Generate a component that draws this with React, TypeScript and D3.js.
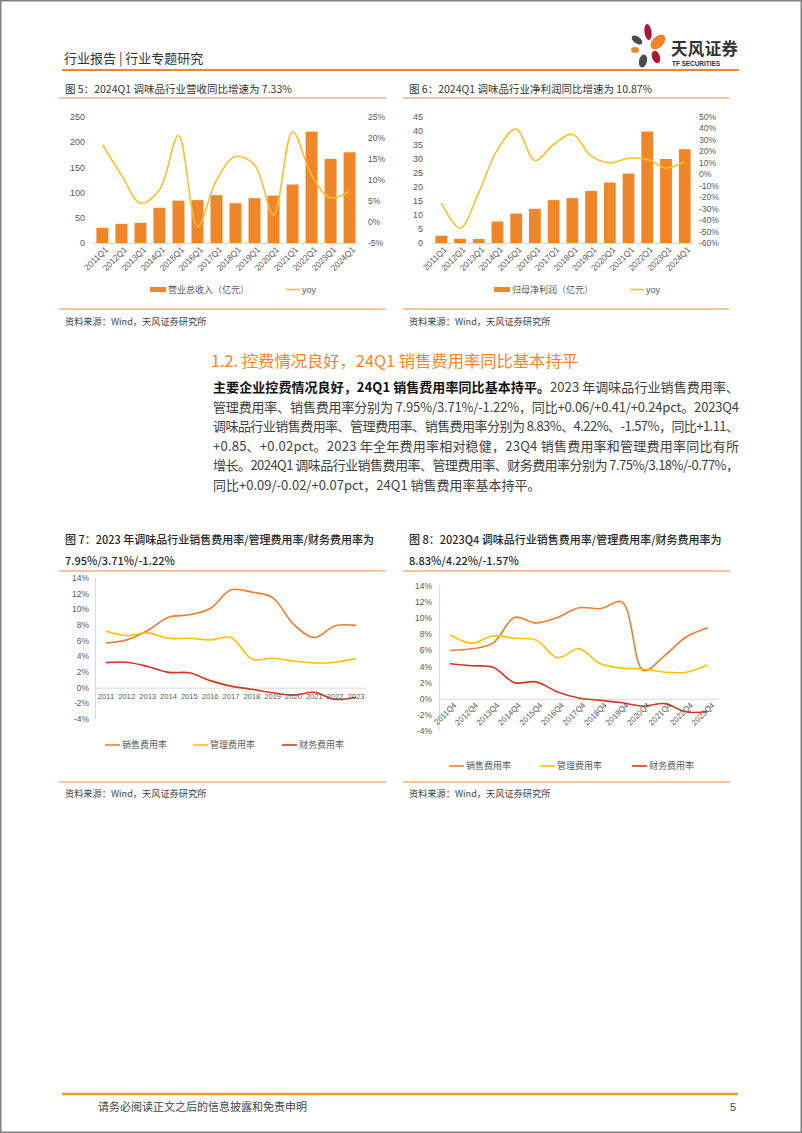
import React from 'react';
import * as d3 from 'd3';

// ---- data ----
const quarters = ['2011Q1', '2012Q1', '2013Q1', '2014Q1', '2015Q1', '2016Q1', '2017Q1', '2018Q1', '2019Q1', '2020Q1', '2021Q1', '2022Q1', '2023Q1', '2024Q1'];
const revenue = [30, 38, 40, 70, 84, 85, 95, 79, 89, 94, 116, 221, 167, 180];
const revenueYoy = [18.4, 11.2, 4.5, 7.7, 20.6, -1.1, 10, 15.6, 13.6, 1.7, 21.5, 11.2, 5.7, 7.33];
const netProfit = [2.6, 1.5, 1.4, 7.7, 10.5, 12.2, 15.3, 16, 18.6, 21.6, 24.8, 39.8, 30, 33.5];
const profitYoy = [-25, -47, -16, 21.5, 39.5, 12, 26, 35, 16, 10, 14, 13, 5.5, 10.87];
const revTicks = [0, 50, 100, 150, 200, 250];
const revYoyTicks = [-5, 0, 5, 10, 15, 20, 25];
const profitTicks = [0, 5, 10, 15, 20, 25, 30, 35, 40, 45];
const profitYoyTicks = [-60, -50, -40, -30, -20, -10, 0, 10, 20, 30, 40, 50];

const years = ['2011', '2012', '2013', '2014', '2015', '2016', '2017', '2018', '2019', '2020', '2021', '2022', '2023'];
const sales7 = [5.7, 6.1, 7.3, 9.0, 9.3, 10.1, 12.5, 12.2, 11.5, 8.1, 6.4, 7.9, 7.95];
const admin7 = [7.2, 6.65, 7.0, 6.3, 6.3, 6.1, 6.4, 3.65, 3.75, 3.4, 3.15, 3.25, 3.71];
const fin7 = [3.2, 3.25, 2.7, 1.95, 1.9, 0.9, 0.2, -0.2, -0.65, -0.95, -0.6, -1.5, -1.22];

const q4s = ['2011Q4', '2012Q4', '2013Q4', '2014Q4', '2015Q4', '2016Q4', '2017Q4', '2018Q4', '2019Q4', '2020Q4', '2021Q4', '2022Q4', '2023Q4'];
const sales8 = [6.0, 6.2, 6.9, 10.1, 9.4, 10.1, 11.3, 11.2, 12.0, 3.5, 5.4, 7.7, 8.83];
const admin8 = [7.95, 6.9, 7.8, 7.5, 7.3, 5.1, 6.2, 4.35, 3.8, 3.7, 3.3, 3.3, 4.22];
const fin8 = [4.35, 4.1, 3.9, 2.0, 2.1, 0.85, 0.1, -0.2, -0.5, -0.9, -0.6, -1.65, -1.57];
const rateTicks = [-4, -2, 0, 2, 4, 6, 8, 10, 12, 14];
const rateNames = ['销售费用率', '管理费用率', '财务费用率'];

const FONT = '"Liberation Sans", Arial, "Noto Sans CJK SC", sans-serif';
const CJK = '"Noto Sans CJK SC", sans-serif';
const ORANGE = '#F0862A';
const YELLOW = '#F7C02C';
const C_SALES = '#EE7D2F';
const C_ADMIN = '#FFC000';
const C_FIN = '#D2361E';
const AXIS_TXT = '#595959';
const RULE = '#F4B183';

interface BarLineProps {
  x0: number; x1: number; top: number; bottom: number;
  bars: number[]; line: number[];
  leftTicks: number[]; rightTicks: number[];
  leftLabelX: number; rightLabelX: number;
  barName: string; legendX: number; yoyX: number;
}

const BarLine = (p: BarLineProps) => {
  const x = d3.scaleBand<string>().domain(quarters).range([p.x0, p.x1]).paddingInner(0.37).paddingOuter(0.18);
  const yL = d3.scaleLinear().domain(d3.extent(p.leftTicks) as [number, number]).range([p.bottom, p.top]);
  const yR = d3.scaleLinear().domain(d3.extent(p.rightTicks) as [number, number]).range([p.bottom, p.top]);
  const cx = (q: string) => (x(q) as number) + x.bandwidth() / 2;
  const line = d3.line<number>()
    .x((_, i) => cx(quarters[i]))
    .y((d) => yR(d))
    .curve(d3.curveCatmullRom.alpha(0.5));
  return (
    <g fontFamily={FONT}>
      {p.leftTicks.map((t) => (
        <text key={'l' + t} x={p.leftLabelX} y={yL(t)} dy="0.35em" textAnchor="end" fontSize={9} fill={AXIS_TXT}>{t}</text>
      ))}
      {p.rightTicks.map((t) => (
        <text key={'r' + t} x={p.rightLabelX} y={yR(t)} dy="0.35em" fontSize={8.5} fill={AXIS_TXT}>{t}%</text>
      ))}
      {quarters.map((q, i) => (
        <rect key={q} x={x(q)} y={yL(p.bars[i])} width={x.bandwidth()} height={p.bottom - yL(p.bars[i])} fill={ORANGE} />
      ))}
      <line x1={p.x0} x2={p.x1} y1={p.bottom + 0.5} y2={p.bottom + 0.5} stroke="#D9D9D9" />
      <path d={line(p.line) || ''} fill="none" stroke={YELLOW} strokeWidth={1.6} />
      {quarters.map((q) => (
        <text key={'x' + q} transform={`translate(${cx(q) + 4},${p.bottom + 5}) rotate(-45)`} textAnchor="end" dy="0.35em" fontSize={8.5} fill={AXIS_TXT}>{q}</text>
      ))}
      <rect x={p.legendX} y={287} width={16} height={5} fill={ORANGE} />
      <text x={p.legendX + 18} y={289.5} dy="0.35em" fontSize={9} fill={AXIS_TXT} fontFamily={CJK}>{p.barName}</text>
      <line x1={p.yoyX} x2={p.yoyX + 14} y1={289.5} y2={289.5} stroke={YELLOW} strokeWidth={1.6} />
      <text x={p.yoyX + 16} y={289.5} dy="0.35em" fontSize={9} fill={AXIS_TXT}>yoy</text>
    </g>
  );
};

interface RateProps {
  labels: string[]; series: number[][];
  axisX: number; x0: number; x1: number; right: number;
  top: number; bottom: number; labelX: number;
  rotate: boolean; legendY: number; legendXs: number[];
}

const RateChart = (p: RateProps) => {
  const x = d3.scalePoint<string>().domain(p.labels).range([p.x0, p.x1]);
  const y = d3.scaleLinear().domain([-4, 14]).range([p.bottom, p.top]);
  const colors = [C_SALES, C_ADMIN, C_FIN];
  const line = d3.line<number>()
    .x((_, i) => x(p.labels[i]) as number)
    .y((d) => y(d))
    .curve(d3.curveCatmullRom.alpha(0.5));
  return (
    <g fontFamily={FONT}>
      {rateTicks.map((t) => (
        <text key={t} x={p.labelX} y={y(t)} dy="0.35em" textAnchor="end" fontSize={8.5} fill={AXIS_TXT}>{t}%</text>
      ))}
      <line x1={p.axisX + 0.5} x2={p.axisX + 0.5} y1={p.top} y2={p.bottom} stroke="#D9D9D9" />
      <line x1={p.axisX} x2={p.right} y1={y(0) + 0.5} y2={y(0) + 0.5} stroke="#D9D9D9" />
      {p.series.map((s, k) => (
        <path key={k} d={line(s) || ''} fill="none" stroke={colors[k]} strokeWidth={1.6} />
      ))}
      {p.labels.map((l) =>
        p.rotate ? (
          <text key={l} transform={`translate(${(x(l) as number) + 5},${y(0) + 5}) rotate(-45)`} textAnchor="end" dy="0.35em" fontSize={8} fill={AXIS_TXT}>{l}</text>
        ) : (
          <text key={l} x={x(l)} y={y(0) + 9} dy="0.35em" textAnchor="middle" fontSize={7.6} fill={AXIS_TXT}>{l}</text>
        )
      )}
      {rateNames.map((n, k) => (
        <g key={n}>
          <line x1={p.legendXs[k]} x2={p.legendXs[k] + 15} y1={p.legendY} y2={p.legendY} stroke={colors[k]} strokeWidth={1.6} />
          <text x={p.legendXs[k] + 17} y={p.legendY} dy="0.35em" fontSize={9} fill={AXIS_TXT} fontFamily={CJK}>{n}</text>
        </g>
      ))}
    </g>
  );
};

const paraLines: { bold?: string; text: string; full: boolean }[] = [
  { bold: '主要企业控费情况良好，24Q1 销售费用率同比基本持平。', text: '2023 年调味品行业销售费用率、', full: true },
  { text: '管理费用率、销售费用率分别为 7.95%/3.71%/-1.22%，同比+0.06/+0.41/+0.24pct。2023Q4', full: true },
  { text: '调味品行业销售费用率、管理费用率、销售费用率分别为 8.83%、4.22%、-1.57%，同比+1.11、', full: true },
  { text: '+0.85、+0.02pct。2023 年全年费用率相对稳健，23Q4 销售费用率和管理费用率同比有所', full: true },
  { text: '增长。2024Q1 调味品行业销售费用率、管理费用率、财务费用率分别为 7.75%/3.18%/-0.77%，', full: true },
  { text: '同比+0.09/-0.02/+0.07pct，24Q1 销售费用率基本持平。', full: false },
];

const Logo = () => (
  <g>
    <ellipse cx={648} cy={32} rx={3.6} ry={8} fill="#A8183B" transform="rotate(-8 648 32)" />
    <ellipse cx={658} cy={42} rx={5.5} ry={9} fill={ORANGE} transform="rotate(45 658 42)" />
    <ellipse cx={637} cy={40} rx={3.5} ry={6} fill="#4A4A4A" transform="rotate(-55 637 40)" />
    <ellipse cx={635} cy={50} rx={4} ry={3} fill={ORANGE} />
    <ellipse cx={656} cy={57} rx={4} ry={6.5} fill="#A8183B" transform="rotate(-20 656 57)" />
    <ellipse cx={643} cy={61} rx={4} ry={6.5} fill="#4A4A4A" transform="rotate(12 643 61)" />
    <text x={671} y={55} fontSize={16.5} fontWeight="bold" fill="#333" fontFamily={CJK} textLength={67}>天风证券</text>
    <text x={672} y={65.5} fontSize={6.5} fontWeight="bold" fill="#333" fontFamily={FONT} textLength={48}>TF SECURITIES</text>
  </g>
);

export default function App() {
  return (
    <svg width={802} height={1133} style={{ position: 'absolute', left: 0, top: 0, background: '#fff' }} fontFamily={CJK}>
      <rect x={0.75} y={0.75} width={800.5} height={1131.5} fill="#fff" stroke="#808080" strokeWidth={1.5} />
      <Logo />
      <text x={64} y={62.5} fontSize={13} fill="#333">行业报告 | 行业专题研究</text>
      <line x1={62} x2={739} y1={70} y2={70} stroke={ORANGE} strokeWidth={2} />

      <text x={65} y={92.5} fontSize={10.5} fill="#333">图 5：2024Q1 调味品行业营收同比增速为 7.33%</text>
      <text x={409} y={92.5} fontSize={10.5} fill="#333">图 6：2024Q1 调味品行业净利润同比增速为 10.87%</text>
      <line x1={59} x2={386} y1={98} y2={98} stroke={RULE} strokeWidth={1.5} />
      <line x1={403} x2={729} y1={98} y2={98} stroke={RULE} strokeWidth={1.5} />

      <BarLine x0={93} x1={359} top={117} bottom={243} bars={revenue} line={revenueYoy}
        leftTicks={revTicks} rightTicks={revYoyTicks} leftLabelX={85} rightLabelX={368}
        barName="营业总收入（亿元）" legendX={150} yoyX={286} />
      <BarLine x0={432} x1={694} top={117} bottom={243} bars={netProfit} line={profitYoy}
        leftTicks={profitTicks} rightTicks={profitYoyTicks} leftLabelX={423} rightLabelX={699}
        barName="归母净利润（亿元）" legendX={494} yoyX={630} />

      <line x1={59} x2={386} y1={309} y2={309} stroke={RULE} strokeWidth={1.5} />
      <line x1={403} x2={729} y1={309} y2={309} stroke={RULE} strokeWidth={1.5} />
      <text x={65} y={324.5} fontSize={9.2} fill="#444">资料来源：Wind，天风证券研究所</text>
      <text x={409} y={324.5} fontSize={9.2} fill="#444">资料来源：Wind，天风证券研究所</text>

      <text x={211} y={367} fontSize={16} fill={ORANGE} textLength={367} lengthAdjust="spacingAndGlyphs">1.2. 控费情况良好，24Q1 销售费用率同比基本持平</text>
      {paraLines.map((l, i) => (
        <text key={i} x={213} y={392 + i * 19.6} fontSize={13} fill="#404040"
          textLength={l.full ? 526 : undefined} lengthAdjust="spacing">
          {l.bold && <tspan fontWeight="bold" fill="#111">{l.bold}</tspan>}
          <tspan>{l.text}</tspan>
        </text>
      ))}

      <g fontSize={11} fill="#262626" fontWeight={500}>
        <text x={65} y={544}>图 7：2023 年调味品行业销售费用率/管理费用率/财务费用率为</text>
        <text x={65} y={565}>7.95%/3.71%/-1.22%</text>
        <text x={409} y={544}>图 8：2023Q4 调味品行业销售费用率/管理费用率/财务费用率为</text>
        <text x={409} y={565}>8.83%/4.22%/-1.57%</text>
      </g>
      <line x1={59} x2={386} y1={571} y2={571} stroke={RULE} strokeWidth={1.5} />
      <line x1={403} x2={730} y1={571} y2={571} stroke={RULE} strokeWidth={1.5} />

      <RateChart labels={years} series={[sales7, admin7, fin7]} axisX={95} x0={106} x1={356} right={366}
        top={578} bottom={719} labelX={89} rotate={false} legendY={745} legendXs={[105, 193, 282]} />
      <RateChart labels={q4s} series={[sales8, admin8, fin8]} axisX={439} x0={450} x1={708} right={718}
        top={586} bottom={731} labelX={432} rotate={true} legendY={766} legendXs={[449, 540, 632]} />

      <line x1={59} x2={386} y1={782} y2={782} stroke={RULE} strokeWidth={1.5} />
      <line x1={403} x2={730} y1={782} y2={782} stroke={RULE} strokeWidth={1.5} />
      <text x={65} y={797} fontSize={9.2} fill="#444">资料来源：Wind，天风证券研究所</text>
      <text x={409} y={797} fontSize={9.2} fill="#444">资料来源：Wind，天风证券研究所</text>

      <line x1={62} x2={738} y1={1094} y2={1094} stroke="#E8A030" strokeWidth={2.5} />
      <text x={98} y={1111} fontSize={11} fill="#444">请务必阅读正文之后的信息披露和免责申明</text>
      <text x={730} y={1111} fontSize={11} fill="#444" fontFamily={FONT}>5</text>
    </svg>
  );
}
